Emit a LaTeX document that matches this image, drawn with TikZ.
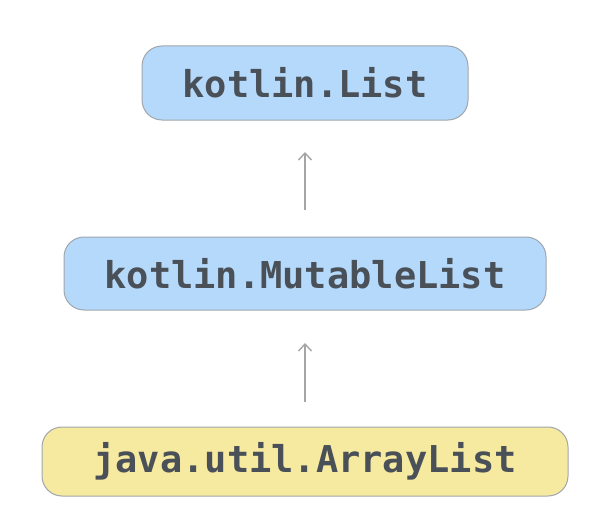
\documentclass[tikz,border=0pt]{standalone}
\usepackage{fontspec}
\setmonofont{DejaVu Sans Mono}
\usetikzlibrary{arrows.meta}
\definecolor{bluefill}{RGB}{180,217,250}
\definecolor{yellowfill}{RGB}{246,233,160}
\definecolor{boxborder}{RGB}{160,166,172}
\definecolor{txt}{RGB}{74,80,88}
\definecolor{arr}{RGB}{165,165,165}
\tikzset{
  klass/.style={draw=boxborder, line width=1pt, rounded corners=20pt, inner sep=0pt,
    text=txt, font=\fontsize{37}{40}\selectfont\ttfamily\bfseries},
  bluebox/.style={klass, fill=bluefill},
  yellowbox/.style={klass, fill=yellowfill},
  inherit/.style={draw=arr, line width=1.4pt, -{Straight Barb[length=7pt,width=13pt]}, shorten >=2pt}
}
\begin{document}
\begin{tikzpicture}[x=1pt,y=1pt]
\useasboundingbox (0,0) rectangle (604,-524);
\node[bluebox, minimum width=326pt, minimum height=74pt] (list) at (305,-83) {kotlin.List};
\node[bluebox, minimum width=482pt, minimum height=73pt] (mlist) at (305,-273.5) {kotlin.MutableList};
\node[yellowbox, minimum width=526pt, minimum height=69pt] (alist) at (305,-461.5) {java.util.ArrayList};
\coordinate (a1s) at (305,-210);
\coordinate (a1e) at (305,-150);
\coordinate (a2s) at (305,-402);
\coordinate (a2e) at (305,-341);
\draw[inherit] (a1s) -- (a1e);
\draw[inherit] (a2s) -- (a2e);
\end{tikzpicture}
\end{document}
